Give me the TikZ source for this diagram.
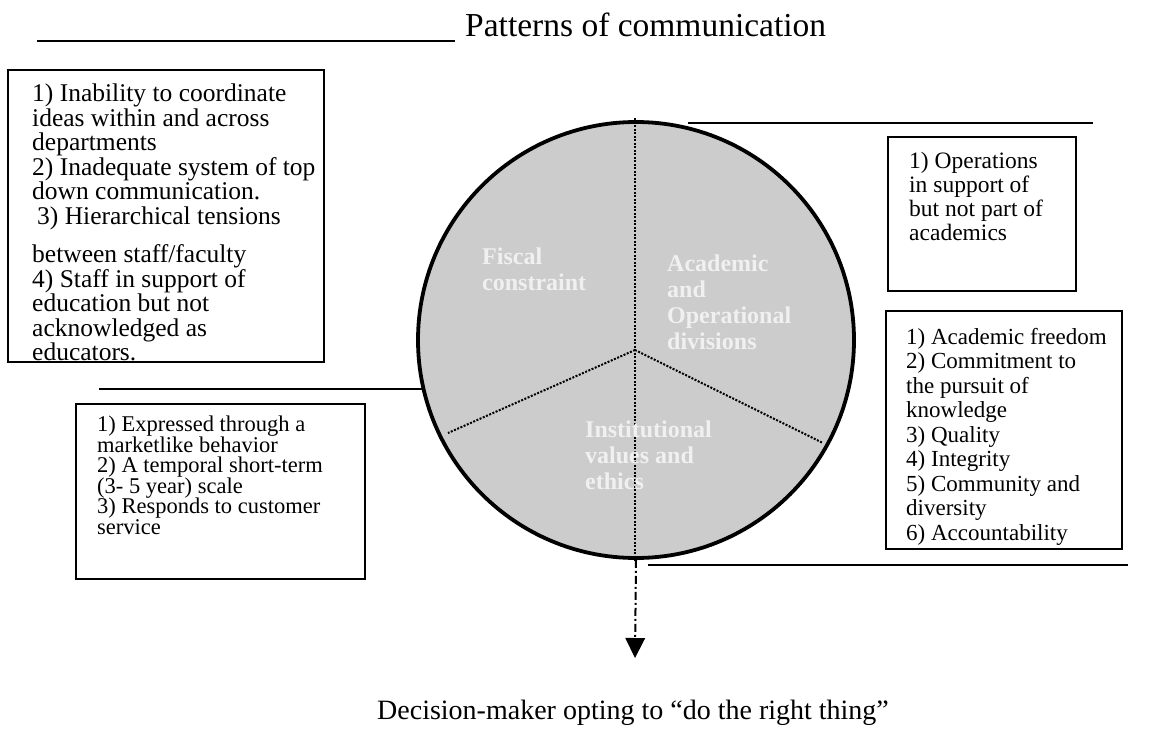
\documentclass[tikz,border=0pt]{standalone}
\usepackage{fontspec}
\setmainfont{Liberation Serif}
\usetikzlibrary{arrows.meta,calc}
\definecolor{discfill}{RGB}{204,204,204}
\definecolor{disctext}{RGB}{240,240,240}
\begin{document}
\begin{tikzpicture}[x=1pt,y=-1pt,
  rule/.style={line width=1.7pt},
  panel/.style={draw, line width=1.4pt, inner sep=0pt, outer sep=0pt, anchor=north west},
  body/.style={anchor=north west, inner sep=0pt, align=left, font=\fontsize{23}{24.5}\selectfont},
  smallbody/.style={body, font=\fontsize{22.5}{20.5}\selectfont},
  sector/.style={anchor=north west, inner sep=0pt, align=left, text=disctext,
    font=\fontsize{24}{26}\selectfont\bfseries},
  spoke/.style={line width=2pt, dash pattern=on 2pt off 1.5pt},
]
\useasboundingbox (0,0) rectangle (1153,728);

% title with its rule
\coordinate (titleruleA) at (37,41);
\coordinate (titleruleB) at (455,41);
\draw[rule] (titleruleA) -- (titleruleB);
\node[anchor=base west, inner sep=0pt, font=\fontsize{33.5}{36}\selectfont] (title) at (465,36) {Patterns of communication};

% the disc and its three sectors
\node[circle, draw, line width=3.8pt, fill=discfill, minimum size=436pt, inner sep=0pt] (disc) at (636,340) {};
\coordinate (hub) at (635,350);
\coordinate (spokeL) at (448,433);
\coordinate (spokeR) at (823,443);
\coordinate (discTop) at (635,118);
\coordinate (discBottom) at (635,561);
\draw[spoke] (discTop) -- (discBottom);
\draw[spoke] (hub) -- (spokeL);
\draw[spoke] (hub) -- (spokeR);

\node[sector] (fiscal) at (482,248) {Fiscal\\constraint};
\node[sector] (academic) at (667,255) {Academic\\and\\Operational\\divisions};
\node[sector] (values) at (585,421) {Institutional\\values and\\ethics};

% rules leading to the side panels
\coordinate (ruleTRa) at (688,123);
\coordinate (ruleTRb) at (1093,123);
\draw[rule] (ruleTRa) -- (ruleTRb);
\coordinate (ruleLa) at (99,389);
\coordinate (ruleLb) at (424,389);
\draw[rule] (ruleLa) -- (ruleLb);
\coordinate (ruleBRa) at (648,565);
\coordinate (ruleBRb) at (1128,565);
\draw[rule] (ruleBRa) -- (ruleBRb);

% side panels
\node[panel, minimum width=316pt, minimum height=292pt] (commbox) at (8,70) {};
\node[body, font=\fontsize{25.5}{24.5}\selectfont] (commtext) at ($(commbox.north west)+(24,14)$) {1) Inability to coordinate\\ideas within and across\\departments\\2) Inadequate system of top\\down communication.\\\hspace{5pt}3) Hierarchical tensions\\[14pt]between staff/faculty\\4) Staff in support of\\education but not\\acknowledged as\\educators.};

\node[panel, minimum width=188pt, minimum height=154pt] (opsbox) at (888,137) {};
\node[body, font=\fontsize{23.5}{24}\selectfont] (opstext) at ($(opsbox.north west)+(21,15)$) {1) Operations\\in support of\\but not part of\\academics};

\node[panel, minimum width=236pt, minimum height=238pt] (valuesbox) at (886,311) {};
\node[body] (valuestext) at ($(valuesbox.north west)+(20,17)$) {1) Academic freedom\\2) Commitment to\\the pursuit of\\knowledge\\3) Quality\\4) Integrity\\5) Community and\\diversity\\6) Accountability};

\node[panel, minimum width=289pt, minimum height=175pt] (fiscalbox) at (76,404) {};
\node[smallbody] (fiscaltext) at ($(fiscalbox.north west)+(21,12)$) {1) Expressed through a\\marketlike behavior\\2) A temporal short-term\\(3- 5 year) scale\\3) Responds to customer\\service};

% outcome arrow
\coordinate (outcome) at (635,658);
\draw[line width=2pt, dash pattern=on 8pt off 3pt on 2pt off 3pt,
  -{Triangle[width=20pt,length=20pt,line width=0pt]}] (disc.south) -- (outcome);
\node[anchor=base, inner sep=0pt, font=\fontsize{28}{30}\selectfont] (decision) at (633,719) {Decision-maker opting to “do the right thing”};
\end{tikzpicture}
\end{document}
